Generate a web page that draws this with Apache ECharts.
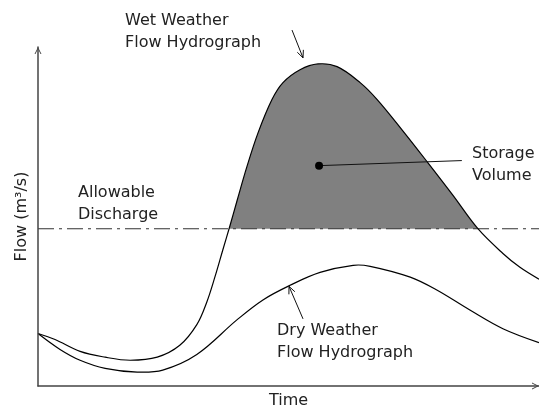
<!DOCTYPE html>
<html><head><meta charset="utf-8">
<script src="https://cdn.jsdelivr.net/npm/echarts@6/dist/echarts.min.js"></script>
<style>html,body{margin:0;padding:0;background:#fff}#c{width:539px;height:414px}</style>
</head><body><div id="c"></div>
<script>
// ---- data (schematic units: time 0-100, flow 0-100) ----
const wetTime = [0,3.4,8.4,13.4,18.4,23.8,28.3,31.7,33.7,35.3,36.9,38.3,39.7,41.7,43.9,46.7,48.9,52.3,55.9,59.7,64.3,67.7,72.7,77.8,82.8,87.8,92.8,96.2,100];
const wetFlow = [15.5,13.7,10.2,8.5,7.6,8.5,12.0,18.1,24.8,32.1,40.2,47.2,54.5,64.7,74.6,84.5,89.5,93.3,95.0,94.2,89.5,84.5,75.5,65.9,56.3,46.4,39.1,35.0,31.5];
const dryTime = [0,4.4,8.4,13.4,19.8,24.9,31.7,39.7,44.9,50.3,56.3,62.9,66.3,74.3,79.6,86.2,92.8,100];
const dryFlow = [15.5,10.8,7.6,5.2,4.1,4.7,9.3,19.5,25.4,29.7,33.5,35.6,35.3,32.1,28.3,22.4,16.9,12.8];
const allowableFlow = 46.4;
const timeRange = [0, 100];
const flowRange = [0, 100];
const axisNames = { x: 'Time', y: 'Flow (m³/s)' };
const labelTexts = {
  wet: 'Wet Weather\nFlow Hydrograph',
  allow: 'Allowable\nDischarge',
  storage: 'Storage\nVolume',
  dry: 'Dry Weather\nFlow Hydrograph'
};

const pairs = (xs, ys) => xs.map((x, i) => [x, ys[i]]);
const wetData = pairs(wetTime, wetFlow);
const dryData = pairs(dryTime, dryFlow);
const FONT = '"DejaVu Sans", sans-serif';
const TXT = '#222';
const SMOOTH = 0.36;
const chevron = 'path://M0,10 L5,0 L10,10 L8.6,10 L5,2.8 L1.4,10 Z';

// smooth curve drawn through the cartesian scales (custom series)
function curveSeries(data, style, z) {
  return {
    type: 'custom', coordinateSystem: 'cartesian2d', data: data, z: z, silent: true,
    encode: { x: 0, y: 1 },
    renderItem: function (params, api) {
      if (params.dataIndex !== 0) return null;
      const pts = data.map(function (d) { return api.coord(d); });
      return { type: 'polyline', shape: { points: pts, smooth: SMOOTH }, style: style };
    }
  };
}

const chart = echarts.init(document.getElementById('c'), null, { renderer: 'canvas' });
chart.setOption({
  animation: false,
  backgroundColor: '#fff',
  grid: { left: 38, right: 0, top: 47, bottom: 24 },
  xAxis: {
    type: 'value', min: timeRange[0], max: timeRange[1], z: 8,
    name: axisNames.x, nameLocation: 'middle', nameGap: 7,
    nameTextStyle: { fontFamily: FONT, fontSize: 16, color: TXT },
    axisLine: { show: true, lineStyle: { color: '#444', width: 1.5 },
      symbol: ['none', chevron], symbolSize: [12, 7], symbolOffset: [0, -3.5] },
    axisTick: { show: false }, axisLabel: { show: false }, splitLine: { show: false }
  },
  yAxis: {
    type: 'value', min: flowRange[0], max: flowRange[1], z: 8,
    name: axisNames.y, nameLocation: 'middle', nameGap: 8,
    nameTextStyle: { fontFamily: FONT, fontSize: 16, color: TXT },
    axisLine: { show: true, lineStyle: { color: '#444', width: 1.5 },
      symbol: ['none', chevron], symbolSize: [12, 7], symbolOffset: [0, -3.5] },
    axisTick: { show: false }, axisLabel: { show: false }, splitLine: { show: false }
  },
  series: [
    // storage volume: region under the wet curve...
    curveSeries(wetData, { fill: '#808080', stroke: null }, 1),
    { // ...with everything below the allowable discharge masked out
      type: 'line', data: [[timeRange[0], allowableFlow], [timeRange[1], allowableFlow]],
      showSymbol: false, z: 2, lineStyle: { width: 0 },
      areaStyle: { color: '#ffffff', opacity: 1 }, silent: true
    },
    {
      type: 'line', data: [[timeRange[0], allowableFlow], [timeRange[1], allowableFlow]],
      showSymbol: false, z: 3, silent: true,
      lineStyle: { color: '#333', width: 1.1, type: [16, 5, 3, 5] }
    },
    curveSeries(wetData, { fill: null, stroke: '#000', lineWidth: 1.2 }, 4),
    curveSeries(dryData, { fill: null, stroke: '#000', lineWidth: 1.2 }, 4)
  ]
});

function px(p) { return chart.convertToPixel({ gridIndex: 0 }, p); }
function arrow(from, to) {
  const a = px(from), b = px(to);
  const ang = Math.atan2(b[1] - a[1], b[0] - a[0]);
  const L = 8, s = 0.42;
  const l = [b[0] - L * Math.cos(ang - s), b[1] - L * Math.sin(ang - s)];
  const r = [b[0] - L * Math.cos(ang + s), b[1] - L * Math.sin(ang + s)];
  return [
    { type: 'line', shape: { x1: a[0], y1: a[1], x2: b[0], y2: b[1] }, style: { stroke: '#111', lineWidth: 1 }, z: 20 },
    { type: 'polyline', shape: { points: [l, b, r] }, style: { stroke: '#111', lineWidth: 1, fill: null }, z: 20 }
  ];
}
function text(t, x, y) {
  return { type: 'text', x: x, y: y, z: 20,
    style: { text: t, font: '16px ' + FONT, fill: TXT, lineHeight: 22, verticalAlign: 'top', align: 'left' } };
}
const dot = px([56.1, 65.0]);
const dotEnd = px([84.6, 66.5]);
chart.setOption({
  graphic: [
    text(labelTexts.wet, 125, 9.5),
    text(labelTexts.allow, 78, 181.5),
    text(labelTexts.storage, 472, 142.5),
    text(labelTexts.dry, 277, 319.5),
    ...arrow([50.7, 105], [52.9, 96.8]),
    ...arrow([52.9, 19.8], [50.1, 29.4]),
    { type: 'line', shape: { x1: dot[0], y1: dot[1], x2: dotEnd[0], y2: dotEnd[1] }, style: { stroke: '#111', lineWidth: 1 }, z: 20 },
    { type: 'circle', shape: { cx: dot[0], cy: dot[1], r: 4 }, style: { fill: '#000' }, z: 21 }
  ]
});
</script>
</body></html>
